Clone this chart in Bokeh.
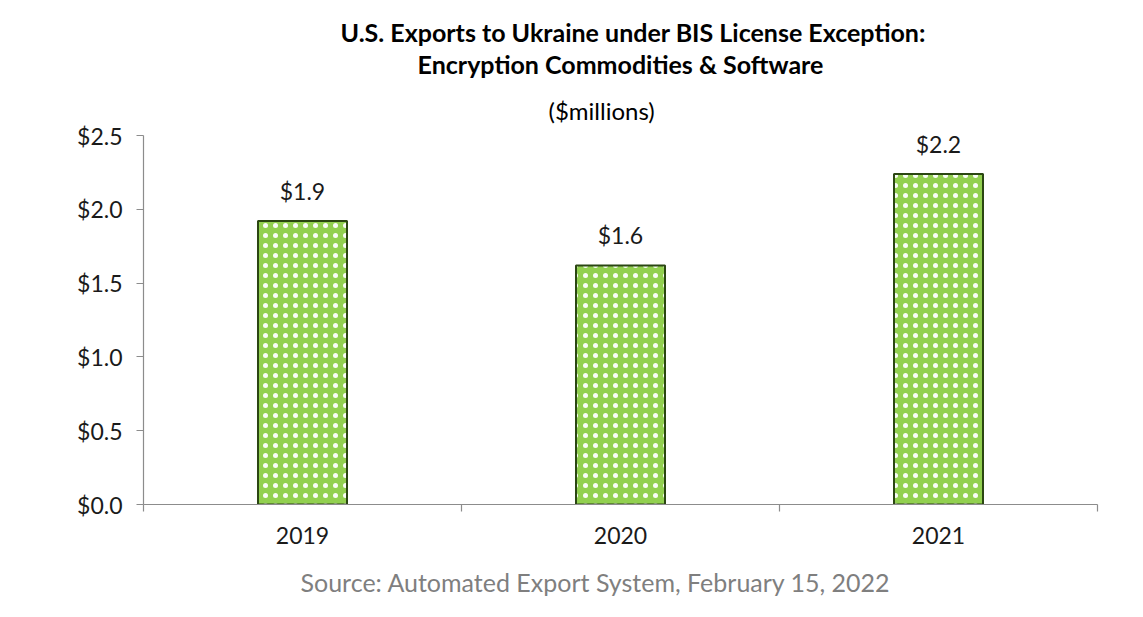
from bokeh.plotting import figure
from bokeh.models import (ColumnDataSource, Range1d, FixedTicker, NumeralTickFormatter,
                          LabelSet, Title)
from bokeh.core.properties import value
from bokeh.embed import file_html
from bokeh.resources import INLINE

years = ["2019", "2020", "2021"]
values = [1.92, 1.62, 2.24]
value_labels = ["$1.9", "$1.6", "$2.2"]
title_lines = ["U.S. Exports to Ukraine under BIS License Exception:",
               "Encryption Commodities & Software"]
subtitle = "($millions)"
source_note = "Source: Automated Export System, February 15, 2022"

FONT = "Lato"
xpos = [i + 0.5 for i in range(len(years))]
src = ColumnDataSource(dict(x=xpos, top=values, lab=value_labels))

p = figure(width=1143, height=617, output_backend="svg", toolbar_location=None,
           x_range=Range1d(0, len(years)), y_range=Range1d(0, 2.5),
           min_border_left=143, min_border_right=46, min_border_top=135,
           min_border_bottom=113)
p.outline_line_color = None
p.grid.visible = False
p.background_fill_color = "white"
p.border_fill_color = "white"

p.vbar(x="x", top="top", width=0.28, source=src, fill_color="#92D050",
       line_color="#2b4712", line_width=2, hatch_pattern="dot",
       hatch_color="white", hatch_scale=10, hatch_weight=1.0, hatch_alpha=0.95)

labels = LabelSet(x="x", y="top", text="lab", source=src, y_offset=16,
                  text_align="center", text_baseline="bottom",
                  text_font=value(FONT), text_font_size="23px", text_color="#1a1a1a")
p.add_layout(labels)

# axes
p.yaxis.ticker = FixedTicker(ticks=[0, 0.5, 1.0, 1.5, 2.0, 2.5])
p.yaxis.formatter = NumeralTickFormatter(format="$0.0")
p.yaxis.minor_tick_line_color = None
p.yaxis.major_tick_in = 0
p.yaxis.major_tick_out = 7
p.yaxis.major_label_standoff = 14
for ax in (p.xaxis, p.yaxis):
    ax.axis_line_color = "#8c8c8c"
    ax.axis_line_width = 1.2
    ax.major_tick_line_color = "#8c8c8c"
    ax.major_label_text_font = FONT
    ax.major_label_text_font_size = "23px"
    ax.major_label_text_color = "#1a1a1a"

p.xaxis.ticker = FixedTicker(ticks=xpos, minor_ticks=list(range(len(years) + 1)))
p.xaxis.major_label_overrides = {x: y for x, y in zip(xpos, years)}
p.xaxis.major_tick_line_color = None
p.xaxis.minor_tick_line_color = "#8c8c8c"
p.xaxis.minor_tick_line_width = 1.2
p.xaxis.minor_tick_in = 0
p.xaxis.minor_tick_out = 7
p.xaxis.major_tick_out = 7
p.xaxis.major_label_standoff = 15

# title texts (first added sits nearest the frame)
p.add_layout(Title(text=subtitle, align="left", offset=405, standoff=21,
                   text_font=FONT, text_font_style="normal", text_font_size="24px",
                   text_color="#000000"), "above")
p.add_layout(Title(text=title_lines[1], align="center", standoff=9,
                   text_font=FONT, text_font_style="bold", text_font_size="25px",
                   text_color="#000000"), "above")
p.add_layout(Title(text=title_lines[0], align="left", offset=197, standoff=-8,
                   text_font=FONT, text_font_style="bold", text_font_size="25px",
                   text_color="#000000"), "above")
p.add_layout(Title(text=source_note, align="left", offset=157, standoff=36,
                   text_font=FONT, text_font_style="normal", text_font_size="25px",
                   text_color="#7f7f7f"), "below")

open("out.html", "w").write(file_html(p, INLINE))
